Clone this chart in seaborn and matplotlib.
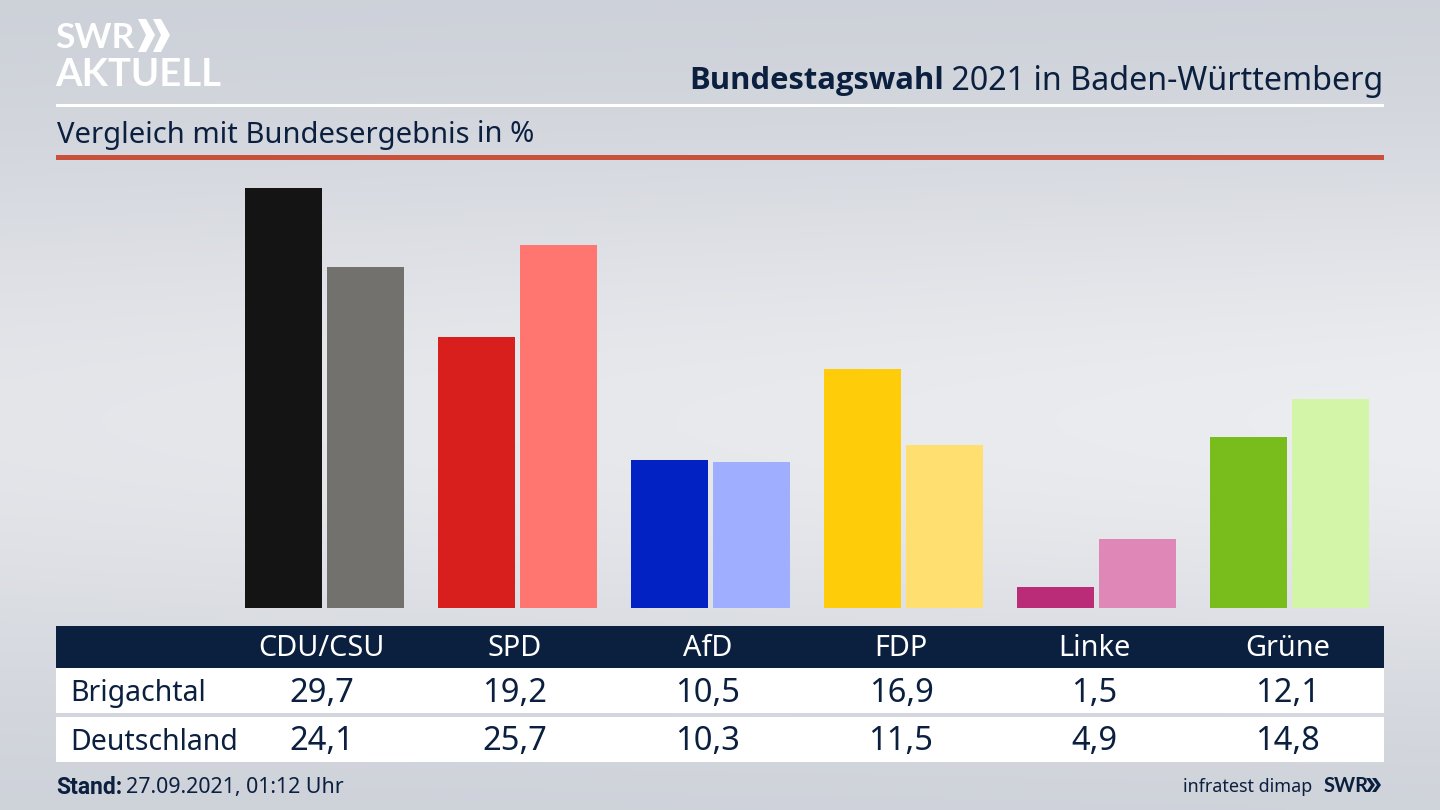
import numpy as np
import pandas as pd
import matplotlib
matplotlib.use("Agg")
import matplotlib.pyplot as plt
from matplotlib.patches import Rectangle, Polygon
import seaborn as sns

# Werte aus der Grafik
parteien = ["CDU/CSU", "SPD", "AfD", "FDP", "Linke", "Grüne"]
brigachtal = [29.7, 19.2, 10.5, 16.9, 1.5, 12.1]
deutschland = [24.1, 25.7, 10.3, 11.5, 4.9, 14.8]
farben_ort = ["#141414", "#d81f1d", "#0322c4", "#ffcc0a", "#bb2c78", "#79bd1c"]
farben_bund = ["#72716e", "#ff7570", "#a0aeff", "#ffdf70", "#df88b8", "#d2f5a8"]
zeilen = ["Brigachtal", "Deutschland"]

NAVY = "#0b1f3f"
W, H = 1440, 810

sns.set_theme(style="white")
plt.rcParams["font.family"] = ["Noto Sans", "DejaVu Sans"]

fig = plt.figure(figsize=(W / 100, H / 100), dpi=100)

# Hintergrund: grauer Verlauf, in der Mitte am hellsten
bg = fig.add_axes([0, 0, 1, 1], zorder=0)
yy, xx = np.mgrid[0:1:81j, 0:1:144j]
hell = np.exp(-((yy - 0.52) / 0.34) ** 2) * (0.75 + 0.25 * xx)
oben = np.array([203, 207, 215]) / 255
mitte = np.array([236, 237, 240]) / 255
bild = oben[None, None, :] + (mitte - oben)[None, None, :] * hell[:, :, None]
bg.imshow(bild, aspect="auto", extent=(0, 1, 0, 1), origin="upper", interpolation="bicubic")
bg.axis("off")

# Balken
ax = fig.add_axes([0, (H - 608) / H, 1, (608 - 165) / H], zorder=1)
df = pd.DataFrame({
    "partei": parteien * 2,
    "gebiet": ["ort"] * 6 + ["bund"] * 6,
    "wert": brigachtal + deutschland,
})
sns.barplot(data=df, x="partei", y="wert", hue="gebiet", order=parteien, width=0.85,
            gap=0.06, legend=False, ax=ax, saturation=1, palette=["#000000", "#555555"])
for cont, farben in zip(ax.containers, [farben_ort, farben_bund]):
    for bar, c in zip(cont, farben):
        bar.set_facecolor(c)
        bar.set_edgecolor("none")
ax.set_xlim(-324.5 / 193, (W - 324.5) / 193)
ax.set_ylim(0, (608 - 165) / 14.14)
ax.axis("off")
ax.patch.set_alpha(0)

# Alles andere in Pixelkoordinaten
ov = fig.add_axes([0, 0, 1, 1], zorder=2)
ov.set_xlim(0, W)
ov.set_ylim(H, 0)
ov.axis("off")
ov.patch.set_alpha(0)

def balken(x0, y0, x1, y1, c):
    ov.add_patch(Rectangle((x0, y0), x1 - x0, y1 - y0, facecolor=c, edgecolor="none"))

balken(56, 104, 1384, 107, "white")
balken(56, 155, 1384, 160, "#c9503b")

# Titel rechtsbuendig, fetter Teil davor
t = ov.text(1383, 81, " 2021 in Baden-Württemberg", ha="right", va="center", fontsize=23.2, color=NAVY)
fig.canvas.draw()
bb = t.get_window_extent()
ov.text(bb.x0 + 1, 81, "Bundestagswahl", ha="right", va="center", fontsize=22.3, fontweight="bold",
        family="Open Sans", color=NAVY)
ov.text(57, 135, "Vergleich mit Bundesergebnis", ha="left", va="center", fontsize=21, color=NAVY)
ov.text(477, 135, "in %", ha="left", va="center", fontsize=21, color=NAVY)

# Logo
ov.text(55, 38, "SWR", ha="left", va="center", fontsize=25.5, fontweight="bold", family="Lato", color="white")
for dx in (0, 15):
    ov.add_patch(Polygon([(138 + dx, 19), (146 + dx, 19), (155 + dx, 35), (146 + dx, 52),
                          (138 + dx, 52), (146 + dx, 35)], facecolor="white", edgecolor="none"))
ov.text(55, 75, "AKTUELL", ha="left", va="center", fontsize=27.5, fontweight="bold", family="Lato", color="white")

# Tabelle
balken(56, 626, 1384, 668, NAVY)
balken(56, 668, 1384, 713, "white")
balken(56, 717, 1384, 762, "white")
spalten = [321.5, 514.5, 708, 901, 1094, 1287.5]
for i, x in enumerate(spalten):
    ov.text(x, 649, parteien[i], ha="center", va="center", fontsize=20.8, color="white")
    ov.text(x, 694, f"{brigachtal[i]:.1f}".replace(".", ","), ha="center", va="center", fontsize=23.5, color=NAVY)
    ov.text(x, 742, f"{deutschland[i]:.1f}".replace(".", ","), ha="center", va="center", fontsize=23.5, color=NAVY)
ov.text(70, 693, zeilen[0], ha="left", va="center", fontsize=20.5, color=NAVY)
ov.text(70, 742, zeilen[1], ha="left", va="center", fontsize=20.5, color=NAVY)

# Fusszeile
s = ov.text(56, 787, "Stand:", ha="left", va="center", fontsize=16.5, fontweight="bold", family="Roboto", color=NAVY)
fig.canvas.draw()
bb = s.get_window_extent()
ov.text(bb.x1 + 4, 787, "27.09.2021, 01:12 Uhr", ha="left", va="center", fontsize=15.4, color=NAVY)
ov.text(1312, 787, "infratest dimap", ha="right", va="center", fontsize=12.9, color=NAVY)
ov.text(1324, 786, "SWR", ha="left", va="center", fontsize=14.5, fontweight="bold", family="Lato", color=NAVY)
for dx in (0, 6):
    ov.add_patch(Polygon([(1366 + dx, 778), (1370 + dx, 778), (1375 + dx, 785), (1370 + dx, 792),
                          (1366 + dx, 792), (1371 + dx, 785)], facecolor=NAVY, edgecolor="none"))

fig.savefig("out.png", dpi=100)
